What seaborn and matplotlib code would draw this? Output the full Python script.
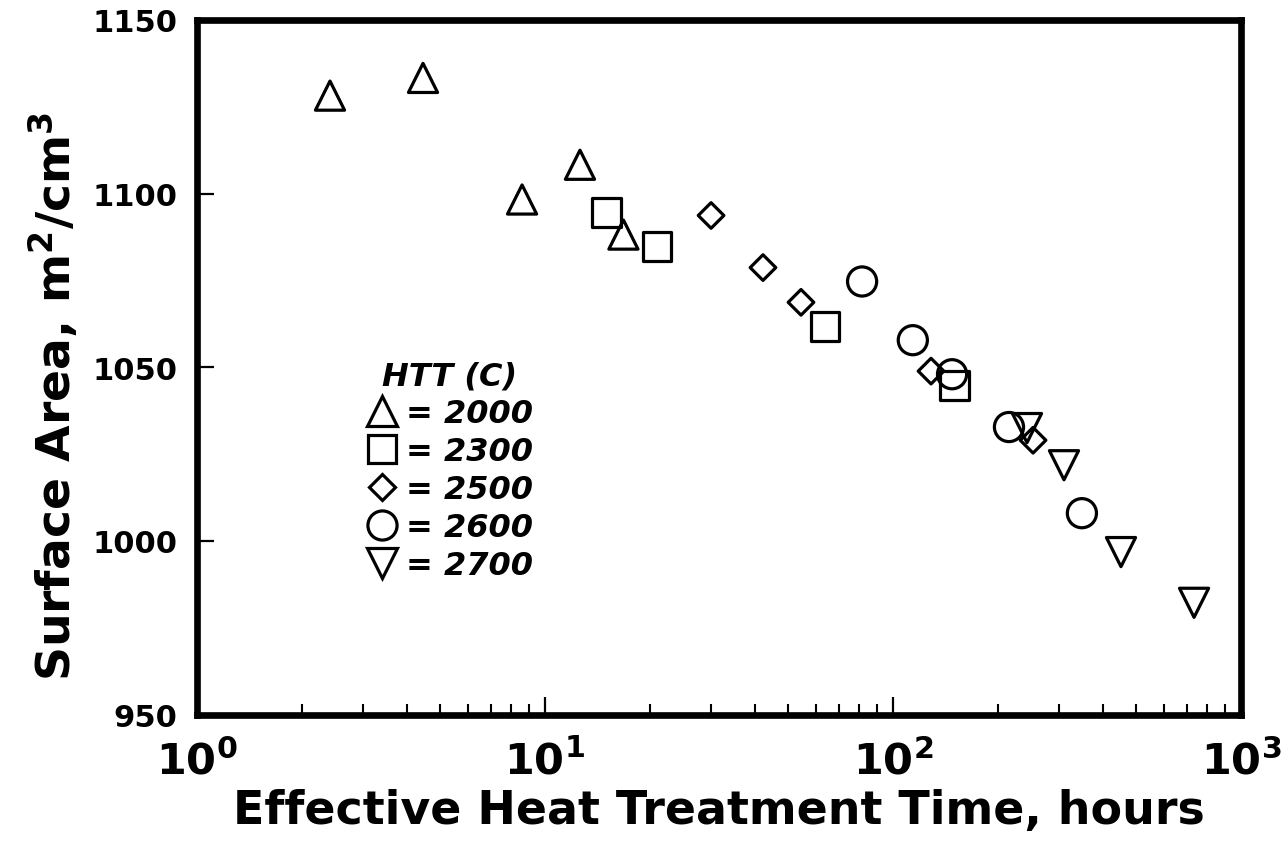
import numpy as np
import pandas as pd
import matplotlib
matplotlib.use("Agg")
import matplotlib.pyplot as plt
from matplotlib.lines import Line2D
from matplotlib.ticker import LogLocator, FixedLocator, NullLocator, FuncFormatter
import seaborn as sns

# ---- data ----
htt_levels = ["2000", "2300", "2500", "2600", "2700"]
t_2000 = [2.41, 4.46, 8.59, 12.6, 16.8]
sa_2000 = [1128.2, 1133.3, 1098.3, 1108.3, 1088.2]
t_2300 = [15.0, 21.0, 63.8, 150.0]
sa_2300 = [1094.5, 1084.8, 1061.8, 1044.8]
t_2500 = [30.0, 42.3, 54.4, 128.6, 252.6]
sa_2500 = [1093.7, 1078.7, 1068.7, 1048.9, 1029.0]
t_2600 = [81.5, 114.0, 147.8, 215.4, 349.0]
sa_2600 = [1074.7, 1057.8, 1048.0, 1032.8, 1008.0]
t_2700 = [242.7, 310.0, 452.0, 733.0]
sa_2700 = [1032.5, 1021.8, 996.8, 982.2]
y_ticks = [950, 1000, 1050, 1100, 1150]
x_ticks = [1, 10, 100, 1000]

times = [t_2000, t_2300, t_2500, t_2600, t_2700]
areas = [sa_2000, sa_2300, sa_2500, sa_2600, sa_2700]
frames = []
for lvl, t, a in zip(htt_levels, times, areas):
    frames.append(pd.DataFrame({"time": t, "area": a, "htt": lvl}))
df = pd.concat(frames, ignore_index=True)

markers = {"2000": "^", "2300": "s", "2500": "D", "2600": "o", "2700": "v"}
sizes = {"2000": 440, "2300": 420, "2500": 170, "2600": 440, "2700": 440}

sns.set_style("ticks")
plt.rcParams["font.family"] = ["DejaVu Sans"]
plt.rcParams["mathtext.fontset"] = "dejavusans"
plt.rcParams["text.color"] = "black"
plt.rcParams["axes.labelcolor"] = "black"
plt.rcParams["xtick.color"] = "black"
plt.rcParams["ytick.color"] = "black"

fig = plt.figure(figsize=(12.88, 8.53), dpi=100)
ax = fig.add_axes([0.153, 0.161, 0.8105, 0.8145])

lw_m = 2.3
for lvl in htt_levels:
    sub = df[df["htt"] == lvl]
    sns.scatterplot(data=sub, x="time", y="area", ax=ax, marker=markers[lvl],
                    s=sizes[lvl], facecolor="none", edgecolor="black",
                    linewidth=lw_m, legend=False, zorder=3)

ax.set_xscale("log")
ax.set_xlim(1, 1000)
ax.set_ylim(950, 1150)

ax.xaxis.set_major_locator(FixedLocator(x_ticks))
ax.xaxis.set_minor_locator(LogLocator(base=10, subs=np.arange(2, 10)))
ax.xaxis.set_minor_formatter(plt.NullFormatter())
ax.xaxis.set_major_formatter(FuncFormatter(
    lambda v, p: r"$\mathbf{10^{%d}}$" % int(round(np.log10(v)))))
ax.yaxis.set_major_locator(FixedLocator(y_ticks))
ax.yaxis.set_minor_locator(NullLocator())

for sp in ax.spines.values():
    sp.set_linewidth(4.8)
    sp.set_color("black")

ax.tick_params(axis="both", which="both", direction="in", top=False, right=False,
               color="black", labelcolor="black")
ax.tick_params(axis="y", which="major", length=12, width=1.6, labelsize=22, pad=14)
ax.tick_params(axis="x", which="major", length=13, width=1.6, labelsize=31, pad=18)
ax.tick_params(axis="x", which="minor", length=8, width=1.5)
for lab in ax.get_yticklabels():
    lab.set_fontweight("bold")

ax.set_xlabel("Effective Heat Treatment Time, hours", fontsize=33,
              fontweight="bold", labelpad=4, color="black")
ax.set_ylabel(r"Surface Area, m$^\mathbf{2}$/cm$^\mathbf{3}$", fontsize=34,
              fontweight="bold", color="black")
ax.yaxis.set_label_coords(-0.112, 0.46)

handles = [Line2D([], [], linestyle="none", marker=markers[l],
                  markersize=np.sqrt(sizes[l]), markerfacecolor="none",
                  markeredgecolor="black", markeredgewidth=lw_m)
           for l in htt_levels]
labels = ["= " + l for l in htt_levels]
leg = ax.legend(handles, labels, title="HTT (C)", frameon=False,
                loc="upper left", bbox_to_anchor=(0.159, 0.515),
                prop={"weight": "bold", "style": "italic", "size": 23},
                handletextpad=0.25, labelspacing=0.22, handlelength=1.0,
                borderpad=0.1, borderaxespad=0.0)
leg.get_title().set_fontsize(23)
leg.get_title().set_fontweight("bold")
leg.get_title().set_fontstyle("italic")
leg.get_title().set_color("black")
for txt in leg.get_texts():
    txt.set_color("black")

ax.grid(False)
fig.savefig("out.png", dpi=100, facecolor="white")
